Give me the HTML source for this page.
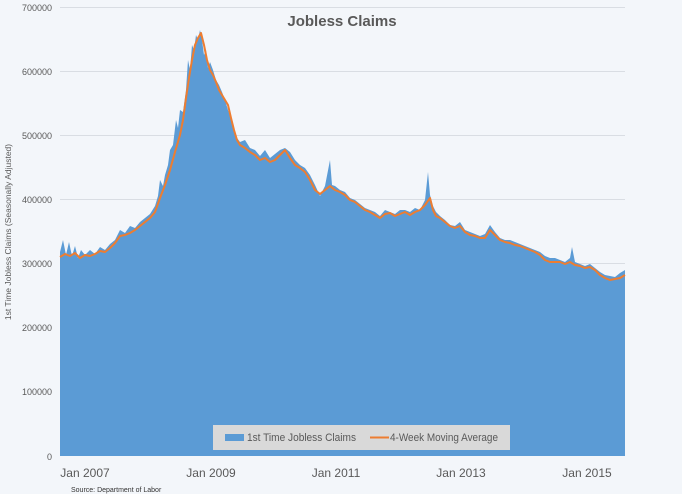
<!DOCTYPE html>
<html><head><style>body{margin:0;background:#f3f6fa;}svg{display:block}</style></head><body>
<svg width="682" height="494" xmlns="http://www.w3.org/2000/svg" font-family="Liberation Sans, sans-serif">
<rect width="682" height="494" fill="#f3f6fa"/>
<g stroke="#d9dde3" stroke-width="1">
<line x1="60" y1="7.5" x2="625" y2="7.5"/><line x1="60" y1="71.5" x2="625" y2="71.5"/><line x1="60" y1="135.5" x2="625" y2="135.5"/><line x1="60" y1="199.5" x2="625" y2="199.5"/><line x1="60" y1="263.5" x2="625" y2="263.5"/><line x1="60" y1="328.5" x2="625" y2="328.5"/><line x1="60" y1="392.5" x2="625" y2="392.5"/>
</g>
<g font-size="9" fill="#595959" text-anchor="end">
<text x="52" y="11">700000</text><text x="52" y="75">600000</text><text x="52" y="139">500000</text><text x="52" y="203">400000</text><text x="52" y="267">300000</text><text x="52" y="331">200000</text><text x="52" y="395">100000</text><text x="52" y="460">0</text>
</g>
<text transform="translate(11,232) rotate(-90)" font-size="8.5" fill="#595959" text-anchor="middle">1st Time Jobless Claims (Seasonally Adjusted)</text>
<polygon fill="#5b9bd5" points="60,456 60,252 63,240 66,255 69,242 72,256 75,246 78,258 81,250 85,255 90,250 95,254 100,247 105,250 110,244 115,240 120,230 125,233 130,226 135,228 140,222 145,218 150,214 155,206 158,196 160,180 163,186 165,175 168,165 170,150 173,145 176,120 178,128 180,110 183,112 186,90 188,60 190,70 192,45 194,50 196,35 198,40 200,30 202,40 204,55 206,50 208,68 210,62 213,70 216,80 219,85 222,92 225,100 228,110 231,118 234,130 237,138 240,142 245,140 250,148 255,150 260,156 265,150 270,158 275,154 280,150 285,148 290,152 295,160 300,165 305,168 310,175 315,185 320,196 325,186 330,160 332,185 335,186 340,190 345,192 350,198 355,200 360,204 365,208 370,210 375,212 380,216 385,210 390,212 395,214 400,210 405,210 410,212 415,208 420,210 425,200 428,172 430,195 433,206 436,212 440,216 445,220 450,225 455,226 460,222 465,230 470,232 475,234 480,236 485,234 490,225 495,232 500,238 505,240 510,240 515,242 520,244 525,246 530,248 535,250 540,252 545,256 550,258 555,258 560,260 565,262 570,258 572,247 575,262 580,264 585,266 590,264 595,268 600,272 605,275 610,276 615,277 620,273 625,270 625,456"/>
<polyline fill="none" stroke="#ed7d31" stroke-width="2" stroke-linejoin="round" points="60,257 65,254 70,256 75,253 80,258 85,255 90,256 95,254 100,251 105,252 110,248 115,243 120,236 125,235 130,233 135,230 140,226 145,222 150,218 155,212 160,198 165,185 170,170 175,152 180,135 183,120 186,98 189,78 192,60 195,45 198,38 201,33 204,45 207,60 210,70 213,75 216,82 219,90 222,95 225,100 228,105 231,118 234,130 237,140 240,145 245,148 250,152 255,155 260,160 265,158 270,162 275,160 280,155 285,150 290,158 295,165 300,168 305,172 310,180 315,190 320,194 325,190 330,186 335,190 340,192 345,195 350,200 355,202 360,206 365,210 370,212 375,215 380,218 385,214 390,213 395,216 400,214 405,212 410,215 415,212 420,210 425,205 430,198 433,210 436,216 440,218 445,222 450,226 455,228 460,226 465,232 470,235 475,236 480,238 485,238 490,230 495,235 500,240 505,242 510,243 515,245 520,246 525,248 530,250 535,252 540,255 545,260 550,262 555,262 560,262 565,264 570,262 575,265 580,266 585,268 590,267 595,270 600,275 605,278 610,280 615,279 620,278 625,275"/>
<text x="342" y="26" font-size="15" font-weight="bold" fill="#595959" text-anchor="middle">Jobless Claims</text>
<rect x="213" y="425" width="297" height="25" fill="#d9d9d9"/>
<rect x="225" y="434" width="19" height="7" fill="#5b9bd5"/>
<text x="247" y="441" font-size="11" fill="#595959" textLength="109" lengthAdjust="spacingAndGlyphs">1st Time Jobless Claims</text>
<line x1="370" y1="437.5" x2="389" y2="437.5" stroke="#ed7d31" stroke-width="2"/>
<text x="390" y="441" font-size="11" fill="#595959" textLength="108" lengthAdjust="spacingAndGlyphs">4-Week Moving Average</text>
<g font-size="12" fill="#595959" text-anchor="middle">
<text x="85" y="477">Jan 2007</text><text x="211" y="477">Jan 2009</text><text x="336" y="477">Jan 2011</text><text x="461" y="477">Jan 2013</text><text x="587" y="477">Jan 2015</text>
</g>
<text x="71" y="492" font-size="7" fill="#333">Source: Department of Labor</text>
</svg>
</body></html>
